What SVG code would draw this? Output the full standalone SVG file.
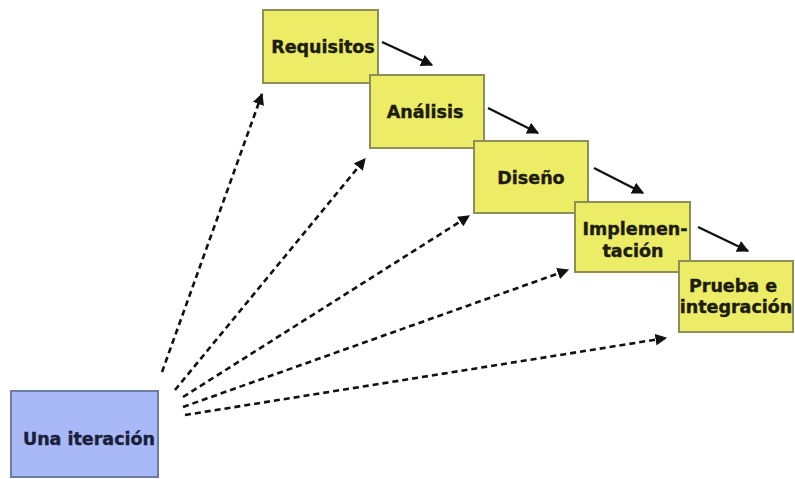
<svg xmlns="http://www.w3.org/2000/svg" width="795" height="479" viewBox="0 0 795 479">
<style>
.y{fill:#ecec66;stroke:#8e8e58;stroke-width:2}
.b{fill:#a9b8f6;stroke:#6f7da6;stroke-width:2}
.t{font-family:"DejaVu Sans",sans-serif;font-weight:bold;font-size:17.5px;fill:#1c1c10;text-anchor:middle;stroke:#1c1c10;stroke-width:0.4}
.s{stroke:#111;stroke-width:2.4;fill:none}
.d{stroke:#111;stroke-width:2.6;fill:none;stroke-dasharray:6 4}
</style>
<defs>
<marker id="ah" viewBox="0 0 10 10" refX="9" refY="5" markerWidth="5" markerHeight="5" orient="auto" markerUnits="strokeWidth">
<path d="M0,0 L10,5 L0,10 z" fill="#111"/>
</marker>
<marker id="dh" viewBox="0 0 10 10" refX="9" refY="5" markerWidth="4.5" markerHeight="4.5" orient="auto" markerUnits="strokeWidth">
<path d="M0,0 L10,5 L0,10 z" fill="#111"/>
</marker>
</defs>
<rect width="795" height="479" fill="#fff"/>
<g id="connectors">
<line class="s" x1="382" y1="42" x2="432" y2="65" marker-end="url(#ah)"/>
<line class="s" x1="488" y1="108" x2="538" y2="133" marker-end="url(#ah)"/>
<line class="s" x1="594" y1="168" x2="643" y2="193" marker-end="url(#ah)"/>
<line class="s" x1="698" y1="227" x2="748" y2="251" marker-end="url(#ah)"/>
<line class="d" x1="162" y1="372" x2="262" y2="94" marker-end="url(#dh)"/>
<line class="d" x1="175" y1="390" x2="365" y2="159" marker-end="url(#dh)"/>
<line class="d" x1="183" y1="397" x2="469" y2="216" marker-end="url(#dh)"/>
<line class="d" x1="183" y1="407" x2="568" y2="270" marker-end="url(#dh)"/>
<line class="d" x1="185" y1="415" x2="666" y2="338" marker-end="url(#dh)"/>
</g>
<g id="requisitos">
<rect class="y" x="263" y="10" width="115" height="73"/>
<text class="t" x="323" y="53">Requisitos</text>
</g>
<g id="analisis">
<rect class="y" x="370" y="75" width="114" height="73"/>
<text class="t" x="425" y="118">Análisis</text>
</g>
<g id="diseno">
<rect class="y" x="474" y="141" width="114" height="72"/>
<text class="t" x="531" y="184">Diseño</text>
</g>
<g id="implementacion">
<rect class="y" x="575" y="202" width="115" height="70"/>
<text class="t" x="635" y="235">Implemen-</text>
<text class="t" x="633" y="257">tación</text>
</g>
<g id="prueba">
<rect class="y" x="679" y="261" width="114" height="71"/>
<text class="t" x="733" y="292">Prueba e</text>
<text class="t" x="736" y="313">integración</text>
</g>
<g id="iteracion">
<rect class="b" x="11" y="391" width="147" height="86"/>
<text class="t" x="89" y="445" style="fill:#1a1f3a;stroke:#1a1f3a">Una iteración</text>
</g>
</svg>
